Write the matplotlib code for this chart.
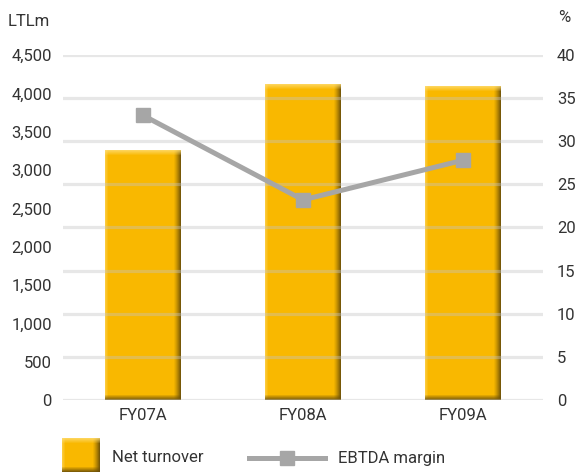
import numpy as np
import matplotlib
matplotlib.use("Agg")
import matplotlib.pyplot as plt
from matplotlib.lines import Line2D

# Data
categories = ["FY07A", "FY08A", "FY09A"]
net_turnover = [3260, 4120, 4085]          # LTLm
ebtda_margin = [33.0, 23.2, 27.8]          # %
left_ticks = list(range(0, 5000, 500))
right_ticks = list(range(0, 45, 5))

plt.rcParams["font.family"] = ["Roboto", "DejaVu Sans"]
TEXT = "#333333"
FS = 12
GOLD = np.array([249, 184, 0]) / 255
GRID = "#c4c4c4"
LINE = "#a6a6a6"

W, H = 576, 472
fig = plt.figure(figsize=(W / 100, H / 100), dpi=100)
ax = fig.add_axes([63 / W, 1 - 400 / H, 480 / W, 345 / H])
ax2 = ax.twinx()


def bevel(w_px, h_px):
    """RGB array giving a bar a raised, lit-from-top-left look."""
    w_px, h_px = max(int(round(w_px)), 2), max(int(round(h_px)), 2)
    img = np.ones((h_px, w_px, 3)) * GOLD
    light = np.array([255, 222, 120]) / 255
    dark = np.array([105, 78, 8]) / 255
    # left highlight
    for i in range(min(3, w_px)):
        t = 0.5 * (1 - i / 3)
        img[:, i] = img[:, i] * (1 - t) + light * t
    # right shadow
    n = 7
    for i in range(n):
        t = ((i + 1) / n) ** 1.3 * 0.9
        img[:, w_px - n + i] = img[:, w_px - n + i] * (1 - t) + dark * t
    # top highlight
    for j in range(min(5, h_px)):
        t = 0.75 * (1 - j / 5)
        img[j] = img[j] * (1 - t) + light * t
    # bottom shadow
    for j in range(5):
        t = ((j + 1) / 5) * 0.85
        img[h_px - 5 + j] = img[h_px - 5 + j] * (1 - t) + dark * t
    return img


x = np.arange(len(categories))
ax.set_xlim(-0.5, len(categories) - 0.5)
ax.set_ylim(0, 4500)
ax2.set_ylim(0, 40)

bars = ax.bar(x, net_turnover, width=0.475, color=GOLD, zorder=2)
ax.figure.canvas.draw()
for b in bars:
    x0, y0 = b.get_x(), b.get_y()
    x1, y1 = x0 + b.get_width(), y0 + b.get_height()
    p0 = ax.transData.transform((x0, y0))
    p1 = ax.transData.transform((x1, y1))
    img = bevel(p1[0] - p0[0], p1[1] - p0[1])
    ax.imshow(img, extent=(x0, x1, y0, y1), aspect="auto",
              interpolation="nearest", zorder=2.5)
ax.set_xlim(-0.5, len(categories) - 0.5)
ax.set_ylim(0, 4500)

# gridlines follow the right-hand scale, drawn faintly over the bars
for t in right_ticks:
    ax2.axhline(t, color=GRID, lw=2.3, alpha=0.4, zorder=0)

ax2.plot(x, ebtda_margin, color=LINE, lw=3.6, marker="s", markersize=9.5,
         solid_capstyle="butt", zorder=5)

ax.set_xticks(x, categories)
ax.set_yticks(left_ticks, [f"{v:,}" for v in left_ticks])
ax2.set_yticks(right_ticks, [str(v) for v in right_ticks])

for a in (ax, ax2):
    for s in a.spines.values():
        s.set_visible(False)
    a.tick_params(length=0, labelsize=FS, labelcolor=TEXT)
ax.tick_params(axis="y", pad=8)
ax2.tick_params(axis="y", pad=10)
ax.tick_params(axis="x", pad=6)

fig.text(8 / W, 1 - 21 / H, "LTLm", fontsize=FS, color=TEXT, va="center")
fig.text(558 / W, 1 - 18 / H, "%", fontsize=FS, color=TEXT, va="center")

# legend
lax = fig.add_axes([62 / W, 0, 38 / W, 34 / H])
lax.imshow(bevel(38, 34), extent=(0, 1, 0, 1), aspect="auto",
           interpolation="nearest")
lax.set_xlim(0, 1)
lax.set_ylim(0, 1)
lax.axis("off")
fig.text(112 / W, 1 - 458 / H, "Net turnover", fontsize=FS, color=TEXT,
         va="center")
fig.add_artist(Line2D([249 / W, 325 / W], [1 - 458 / H, 1 - 458 / H],
                      transform=fig.transFigure, color=LINE, lw=3.6))
fig.add_artist(Line2D([287 / W], [1 - 458 / H], transform=fig.transFigure,
                      color=LINE, marker="s", markersize=9.5, lw=0))
fig.text(338 / W, 1 - 458 / H, "EBTDA margin", fontsize=FS, color=TEXT,
         va="center")

fig.savefig("out.png", dpi=100)
